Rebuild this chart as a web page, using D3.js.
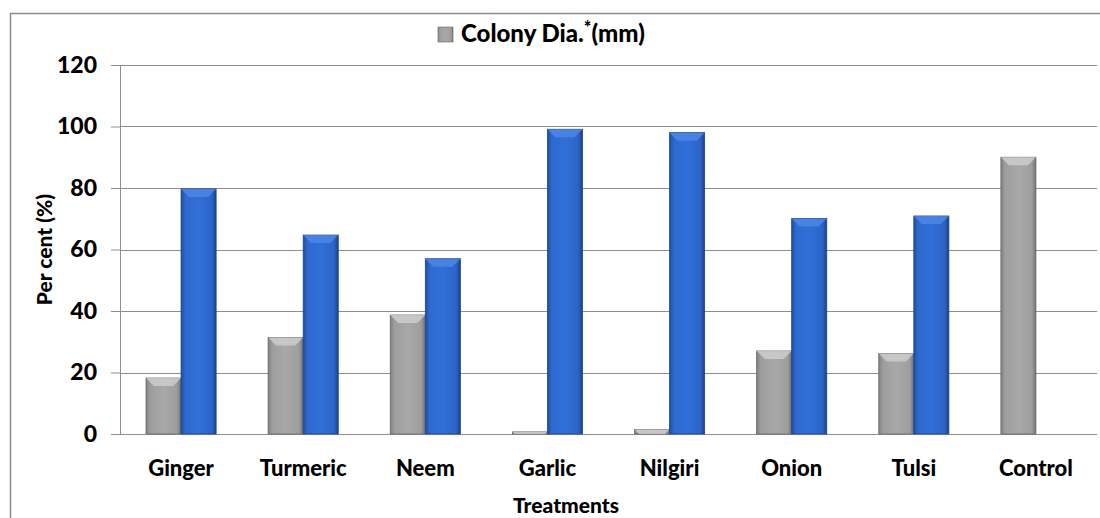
<!DOCTYPE html>
<html>
<head>
<meta charset="utf-8">
<script src="https://cdn.jsdelivr.net/npm/d3@7"></script>
<style>
  body { margin: 0; background: #fff; }
  svg text { font-family: Lato, "Open Sans", sans-serif; font-weight: 900; fill: #000; }
</style>
</head>
<body>
<div id="chart"></div>
<script>
// data
const treatments = ['Ginger', 'Turmeric', 'Neem', 'Garlic', 'Nilgiri', 'Onion', 'Tulsi', 'Control'];
const colonyDia = [18.2, 31.4, 38.7, 0.7, 1.5, 27, 26.2, 90];
const inhibition = [79.7, 64.7, 57, 99.1, 98, 70.1, 70.9, 0];
const yTicks = [0, 20, 40, 60, 80, 100, 120];

const width = 1100, height = 518;
const margin = {top: 65, right: 3, bottom: 84, left: 120};
const innerW = width - margin.left - margin.right,
      innerH = height - margin.top - margin.bottom;

const svg = d3.select('#chart').append('svg')
    .attr('width', width)
    .attr('height', height);

// gradients for the bevelled bars
const defs = svg.append('defs');
function addGrad(id, stops) {
    const g = defs.append('linearGradient').attr('id', id)
        .attr('x1', '0%').attr('x2', '100%').attr('y1', '0%').attr('y2', '0%');
    stops.forEach(s => g.append('stop').attr('offset', s[0]).attr('stop-color', s[1]));
}
addGrad('grayGrad', [['0%', '#808080'], ['12%', '#9e9e9e'], ['50%', '#a8a8a8'], ['88%', '#9e9e9e'], ['100%', '#727272']]);
addGrad('blueGrad', [['0%', '#1f4d9e'], ['12%', '#2e69cf'], ['50%', '#316fd8'], ['88%', '#2c64c6'], ['100%', '#1b418a']]);

// outer frame (cropped on the right and bottom)
svg.append('path')
    .attr('d', `M10.5,${height} V13.5 H${width}`)
    .attr('fill', 'none').attr('stroke', '#8c8c8c').attr('stroke-width', 1.5);

const g = svg.append('g').attr('transform', `translate(${margin.left},${margin.top})`);

const x0 = d3.scaleBand().domain(treatments).range([0, innerW]).paddingInner(0).paddingOuter(0);
const x1 = d3.scaleBand().domain(['dia', 'inh']).range([26, x0.bandwidth() - 26]);
const y = d3.scaleLinear().domain([0, 120]).range([innerH, 0]);

// gridlines
g.append('g')
    .selectAll('line')
    .data(yTicks.filter(t => t > 0))
    .join('line')
    .attr('x1', 0).attr('x2', innerW)
    .attr('y1', d => Math.round(y(d)) + 0.5).attr('y2', d => Math.round(y(d)) + 0.5)
    .attr('stroke', '#8f8f8f').attr('stroke-width', 1);

// y axis
const yAxis = g.append('g')
    .call(d3.axisLeft(y).tickValues(yTicks).tickSize(9).tickPadding(14));
yAxis.select('.domain').attr('stroke', '#8f8f8f');
yAxis.selectAll('.tick line').attr('stroke', '#8f8f8f');
yAxis.selectAll('.tick text').style('font-size', '23px');

// x baseline
g.append('line')
    .attr('x1', -9).attr('x2', innerW)
    .attr('y1', innerH + 0.5).attr('y2', innerH + 0.5)
    .attr('stroke', '#8f8f8f');

// bars
const rows = treatments.map((t, i) => ({t, vals: [
    {key: 'dia', v: colonyDia[i], fill: 'url(#grayGrad)', top: '#cfcfcf', stroke: '#6a6a6a'},
    {key: 'inh', v: inhibition[i], fill: 'url(#blueGrad)', top: '#4f88e6', stroke: '#1c448f'}
]}));

const groups = g.selectAll('g.grp')
    .data(rows)
    .join('g')
    .attr('class', 'grp')
    .attr('transform', d => `translate(${x0(d.t)},0)`);

const bars = groups.selectAll('g.bar')
    .data(d => d.vals.filter(b => b.v > 0))
    .join('g')
    .attr('class', 'bar');

bars.append('rect')
    .attr('x', d => x1(d.key))
    .attr('y', d => y(d.v))
    .attr('width', x1.bandwidth())
    .attr('height', d => innerH - y(d.v))
    .attr('fill', d => d.fill)
    .attr('stroke', d => d.stroke)
    .attr('stroke-width', 0.8);

// bevelled top
bars.append('path')
    .attr('d', d => {
        const bx = x1(d.key), bw = x1.bandwidth(), by = y(d.v);
        const h = Math.min(8, innerH - by);
        return `M${bx},${by} H${bx + bw} L${bx + bw - h},${by + h} H${bx + h} Z`;
    })
    .attr('fill', d => d.top)
    .attr('opacity', 0.8);

// x labels
g.append('g')
    .selectAll('text')
    .data(treatments)
    .join('text')
    .attr('x', d => x0(d) + x0.bandwidth() / 2)
    .attr('y', innerH + 42)
    .attr('text-anchor', 'middle')
    .style('font-size', '22px')
    .text(d => d);

// axis titles
svg.append('text')
    .attr('x', 566).attr('y', 513)
    .attr('text-anchor', 'middle')
    .style('font-size', '21px')
    .text('Treatments');

svg.append('text')
    .attr('transform', `translate(52,${margin.top + innerH / 2}) rotate(-90)`)
    .attr('text-anchor', 'middle')
    .style('font-size', '21px')
    .text('Per cent (%)');

// legend
const leg = svg.append('g').attr('transform', 'translate(438,27)');
leg.append('rect').attr('width', 15).attr('height', 15).attr('fill', 'url(#grayGrad)').attr('stroke', '#6a6a6a').attr('stroke-width', 0.6);
const lt = leg.append('text').attr('x', 23).attr('y', 15).style('font-size', '24px');
lt.append('tspan').text('Colony Dia.');
lt.append('tspan').attr('dy', -8).style('font-size', '18px').text('*');
lt.append('tspan').attr('dy', 8).text('(mm)');
</script>
</body>
</html>
